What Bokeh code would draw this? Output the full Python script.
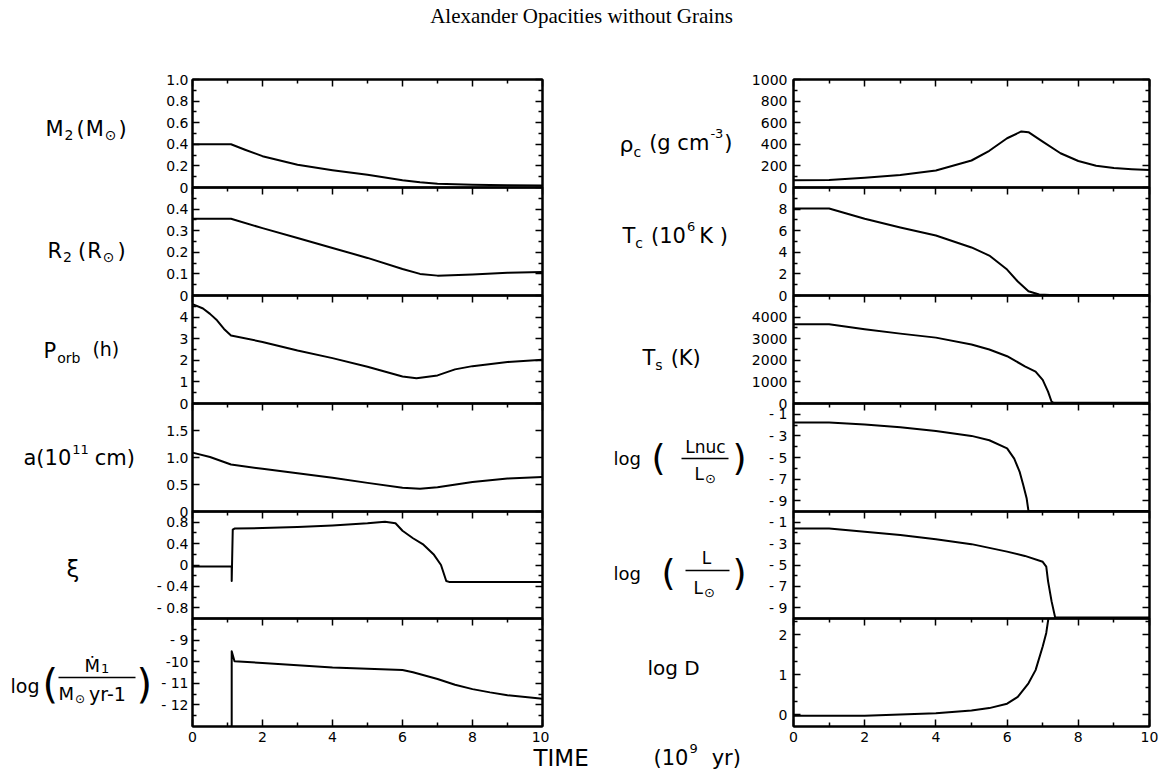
import numpy as np
from bokeh.plotting import figure
from bokeh.models import Range1d, LinearAxis, FixedTicker, Label, Arrow
from bokeh.layouts import column, row
from bokeh.embed import file_html
from bokeh.resources import INLINE

# ---------------- data (time in 10^9 yr) ----------------
m2_time = [0, 1.1, 1.5, 2, 3, 4, 5, 6, 6.5, 7, 8, 9, 10]
m2_mass = [0.40, 0.40, 0.35, 0.29, 0.21, 0.16, 0.117, 0.068, 0.048, 0.035, 0.025, 0.021, 0.018]

r2_time = [0, 1.1, 2, 3, 4, 5, 6, 6.5, 7, 8, 9, 10]
r2_radius = [0.355, 0.355, 0.312, 0.266, 0.22, 0.174, 0.123, 0.10, 0.092, 0.097, 0.105, 0.109]

porb_time = [0, 0.3, 0.5, 0.7, 0.9, 1.1, 2, 3, 4, 5, 6, 6.4, 7, 7.5, 8, 9, 10]
porb_hours = [4.6, 4.4, 4.15, 3.85, 3.45, 3.15, 2.85, 2.45, 2.1, 1.7, 1.25, 1.17, 1.3, 1.58, 1.73, 1.92, 2.02]

sep_time = [0, 0.5, 1.1, 2, 3, 4, 5, 6, 6.5, 7, 8, 9, 10]
sep_a = [1.09, 1.01, 0.87, 0.79, 0.71, 0.625, 0.53, 0.44, 0.42, 0.45, 0.545, 0.61, 0.64]

xi_time = [0, 1.12, 1.12, 1.15, 1.2, 2, 3, 4, 5, 5.5, 5.8, 6, 6.3, 6.6, 6.9, 7.1, 7.25, 7.35, 10]
xi_val = [-0.03, -0.03, -0.3, 0.66, 0.68, 0.69, 0.71, 0.74, 0.78, 0.81, 0.78, 0.64, 0.5, 0.38, 0.19, 0.0, -0.3, -0.32, -0.32]

mdot_time = [1.12, 1.12, 1.2, 2, 3, 4, 5, 6, 6.3, 7, 7.5, 8, 8.5, 9, 10]
mdot_log = [-13, -9.52, -9.98, -10.06, -10.17, -10.27, -10.33, -10.38, -10.49, -10.8, -11.07, -11.27, -11.42, -11.55, -11.72]

rho_time = [0, 1, 2, 3, 4, 5, 5.5, 6, 6.4, 6.6, 7, 7.5, 8, 8.5, 9, 9.5, 10]
rho_c = [68, 70, 90, 115, 158, 250, 340, 456, 519, 512, 425, 317, 245, 202, 180, 170, 163]

tc_time = [0, 1, 2, 3, 4, 5, 5.5, 6, 6.3, 6.6, 6.9, 7.2, 10]
tc_val = [8.05, 8.05, 7.1, 6.3, 5.55, 4.45, 3.7, 2.4, 1.3, 0.4, 0.1, 0.05, 0.05]

ts_time = [0, 1, 2, 3, 4, 5, 5.5, 6, 6.5, 6.8, 7.0, 7.15, 7.25, 7.3, 10]
ts_val = [3670, 3670, 3440, 3235, 3050, 2735, 2500, 2190, 1720, 1480, 1090, 550, 80, 40, 40]

lnuc_time = [0, 1, 2, 3, 4, 5, 5.5, 6, 6.2, 6.35, 6.45, 6.55, 6.6, 10]
lnuc_log = [-1.75, -1.75, -1.95, -2.2, -2.55, -3.0, -3.4, -4.15, -5.1, -6.3, -7.5, -8.8, -9.95, -9.95]

lum_time = [0, 1, 2, 3, 4, 5, 6, 6.5, 7, 7.1, 7.15, 7.25, 7.35, 10]
lum_log = [-1.6, -1.6, -1.9, -2.2, -2.6, -3.05, -3.75, -4.15, -4.7, -5.15, -6.5, -8.4, -9.9, -9.9]

logd_time = [0, 2, 3, 4, 5, 5.5, 6, 6.3, 6.6, 6.8, 7.0, 7.1, 7.16]
logd_val = [-0.03, -0.03, 0.0, 0.03, 0.1, 0.16, 0.27, 0.44, 0.78, 1.11, 1.7, 2.04, 2.4]

# ---------------- ticks ----------------
x_ticks = [0, 2, 4, 6, 8, 10]
x_minor = [1, 3, 5, 7, 9]
x_labels = ["0", "2", "4", "6", "8", "10"]

m2_ticks = [0, 0.2, 0.4, 0.6, 0.8, 1.0]
m2_labels = ["0", "0.2", "0.4", "0.6", "0.8", "1.0"]
m2_minor = [0.1, 0.3, 0.5, 0.7, 0.9]
r2_ticks = [0, 0.1, 0.2, 0.3, 0.4]
r2_labels = ["0", "0.1", "0.2", "0.3", "0.4"]
r2_minor = [0.05, 0.15, 0.25, 0.35, 0.45]
porb_ticks = [0, 1, 2, 3, 4]
porb_labels = ["0", "1", "2", "3", "4"]
porb_minor = [0.5, 1.5, 2.5, 3.5, 4.5]
sep_ticks = [0, 0.5, 1.0, 1.5]
sep_labels = ["0", "0.5", "1.0", "1.5"]
sep_minor = []
xi_ticks = [-0.8, -0.4, 0, 0.4, 0.8]
xi_labels = ["- 0.8", "- 0.4", "0", "0.4", "0.8"]
xi_minor = [-0.6, -0.2, 0.2, 0.6]
mdot_ticks = [-12, -11, -10, -9]
mdot_labels = ["- 12", "- 11", "-10", "- 9"]
mdot_minor = [-12.5, -11.5, -10.5, -9.5, -8.5]

rho_ticks = [0, 200, 400, 600, 800, 1000]
rho_labels = ["0", "200", "400", "600", "800", "1000"]
rho_minor = [100, 300, 500, 700, 900]
tc_ticks = [0, 2, 4, 6, 8]
tc_labels = ["0", "2", "4", "6", "8"]
tc_minor = [1, 3, 5, 7, 9]
ts_ticks = [0, 1000, 2000, 3000, 4000]
ts_labels = ["0", "1000", "2000", "3000", "4000"]
ts_minor = [500, 1500, 2500, 3500, 4500]
lg_ticks = [-9, -7, -5, -3, -1]
lg_labels = ["- 9", "- 7", "- 5", "- 3", "- 1"]
lg_minor = [-8, -6, -4, -2]
logd_ticks = [0, 1, 2]
logd_labels = ["0", "1", "2"]
logd_minor = [0.333, 0.667, 1.333, 1.667, 2.333]

# ---------------- layout geometry ----------------
FONT = "DejaVu Sans"
LABEL_W = [153, 198]         # width of the label strip left of each column
FW = [350, 356]              # frame widths (left, right column)
ML = [38, 44]                # left borders of the panels (tick labels)
MR = [8, 13]                 # right borders
STRIP_X0 = [0, 549]          # page x where each label strip starts
TOPS = [79, 187, 295, 403, 511, 618]
HEIGHTS = [108, 108, 108, 108, 107, 108]
TB, BB, BB_LAST = 12, 12, 20
TOP_BAND = TOPS[0] - TB
COL_TOP = TOPS[0] - TB
COL_BOTTOM = TOPS[-1] + HEIGHTS[-1] + BB_LAST
BAND_OVERLAP = 14
BOTTOM_BAND = 775 - COL_BOTTOM + BAND_OVERLAP

left_panels = [
    dict(t=m2_time, v=m2_mass, yr=(0, 1.0), tk=m2_ticks, lb=m2_labels, mn=m2_minor),
    dict(t=r2_time, v=r2_radius, yr=(0, 0.5), tk=r2_ticks, lb=r2_labels, mn=r2_minor),
    dict(t=porb_time, v=porb_hours, yr=(0, 5), tk=porb_ticks, lb=porb_labels, mn=porb_minor),
    dict(t=sep_time, v=sep_a, yr=(0, 2.0), tk=sep_ticks, lb=sep_labels, mn=sep_minor),
    dict(t=xi_time, v=xi_val, yr=(-1.0, 1.0), tk=xi_ticks, lb=xi_labels, mn=xi_minor),
    dict(t=mdot_time, v=mdot_log, yr=(-13, -8), tk=mdot_ticks, lb=mdot_labels, mn=mdot_minor),
]
right_panels = [
    dict(t=rho_time, v=rho_c, yr=(0, 1000), tk=rho_ticks, lb=rho_labels, mn=rho_minor),
    dict(t=tc_time, v=tc_val, yr=(0, 10), tk=tc_ticks, lb=tc_labels, mn=tc_minor),
    dict(t=ts_time, v=ts_val, yr=(0, 5000), tk=ts_ticks, lb=ts_labels, mn=ts_minor),
    dict(t=lnuc_time, v=lnuc_log, yr=(-10, 0), tk=lg_ticks, lb=lg_labels, mn=lg_minor),
    dict(t=lum_time, v=lum_log, yr=(-10, 0), tk=lg_ticks, lb=lg_labels, mn=lg_minor),
    dict(t=logd_time, v=logd_val, yr=(-0.3, 2.4), tk=logd_ticks, lb=logd_labels, mn=logd_minor),
]

# approximate advance widths of DejaVu Sans (em)
ADV = {"M": .863, "R": .695, "P": .603, "T": .611, "K": .656, "L": .557, "D": .770, "I": .295, "E": .632,
       "a": .613, "b": .635, "c": .550, "g": .635, "h": .634, "l": .278, "m": .974, "n": .634, "o": .612,
       "r": .411, "s": .521, "u": .634, "y": .592, "(": .390, ")": .390, " ": .318, "-": .361,
       "\u2299": .838, "\u03be": .5, "\u03c1": .635, "\u1e40": .863}


def text_width(s, size):
    return sum(ADV.get(ch, .636) for ch in s) * size


# quantity labels as flows: (page x start, page y centre, [(text, size, dy, gap before)])
left_flows = [
    (45, 128, [("M", 21, 0, 0), ("2", 14, 6, 1), ("(", 21, 0, 3), ("M", 21, 0, 1), ("\u2299", 14, 6, 1), (")", 21, 0, 2)]),
    (47, 250, [("R", 21, 0, 0), ("2", 14, 6, 1), ("(", 21, 0, 6), ("R", 21, 0, 1), ("\u2299", 14, 6, 1), (")", 21, 0, 3)]),
    (43, 350, [("P", 21, 0, 0), ("orb", 14, 7, 1), ("(h)", 19, -2, 12)]),
    (23, 457, [("a(10", 21, 0, 0), ("11", 13, -8, 1), ("cm)", 21, 0, 6)]),
    (66, 568, [("\u03be", 23, 0, 0)]),
    (10, 685, [("log", 19, 0, 0)]),
    (42, 683, [("(", 40, 0, 0)]),
    (84, 665, [("\u1e40", 18, 0, 0), ("1", 13, 3, 1)]),
    (58, 693, [("M", 18, 0, 0), ("\u2299", 12, 5, 1), ("yr-1", 19, 0, 4)]),
    (136, 683, [(")", 40, 0, 0)]),
]
left_centered = []
left_bars = [(58, 135, 677)]

right_flows = [
    (618, 142, [("\u03c1", 22, 2, 0), ("c", 14, 9, 0), ("(g cm", 21, 0, 8), ("-3", 13, -9, 1), (")", 21, 0, 1)]),
    (621, 235, [("T", 21, 0, 0), ("c", 14, 7, 0), ("(10", 21, 0, 8), ("6", 13, -9, 1), ("K )", 21, 0, 4)]),
    (641, 357, [("T", 21, 0, 0), ("s", 14, 7, 0), ("(K)", 21, 0, 8)]),
    (612, 458, [("log", 18, 0, 0)]),
    (650, 457, [("(", 36, 0, 0)]),
    (693, 473, [("L", 17, 0, 0), ("\u2299", 13, 5, 1)]),
    (731, 457, [(")", 36, 0, 0)]),
    (612, 573, [("log", 18, 0, 0)]),
    (660, 572, [("(", 36, 0, 0)]),
    (692, 587, [("L", 17, 0, 0), ("\u2299", 13, 5, 1)]),
    (731, 572, [(")", 36, 0, 0)]),
    (646, 667, [("log  D", 20, 0, 0)]),
]
right_centered = [("Lnuc", 704, 446, 17), ("L", 705, 557, 17)]
right_bars = [(680, 727, 458), (684, 728, 570)]


def tick_axis(ticks, minor, labels=None, size="14px", standoff=4):
    ax = LinearAxis(ticker=FixedTicker(ticks=ticks, minor_ticks=minor),
                    major_tick_in=7, major_tick_out=0, minor_tick_in=4, minor_tick_out=0,
                    axis_line_width=2, axis_line_color="black",
                    major_tick_line_width=1.5, minor_tick_line_width=1.5,
                    major_label_text_font=FONT, major_label_text_color="black")
    if labels is None:
        ax.major_label_text_font_size = "0px"
        ax.major_label_standoff = 0
        ax.major_label_overrides = {t: "" for t in ticks}
    else:
        ax.major_label_text_font_size = size
        ax.major_label_standoff = standoff
        ax.major_label_overrides = {t: l for t, l in zip(ticks, labels)}
    return ax


def make_panel(col, k, cfg):
    last = k == 5
    p = figure(frame_width=FW[col], frame_height=HEIGHTS[k],
               x_range=Range1d(0, 10), y_range=Range1d(*cfg["yr"]),
               x_axis_location=None, y_axis_location=None,
               toolbar_location=None, output_backend="svg",
               min_border_left=ML[col], min_border_right=MR[col],
               min_border_top=TB, min_border_bottom=BB_LAST if last else BB,
               background_fill_color=None, border_fill_color=None,
               outline_line_color="black", outline_line_width=2)
    p.grid.visible = False
    p.add_layout(tick_axis(cfg["tk"], cfg["mn"], cfg["lb"], "14px", 4 if col == 0 else 6), "left")
    p.add_layout(tick_axis(cfg["tk"], cfg["mn"]), "right")
    p.add_layout(tick_axis(x_ticks, x_minor), "above")
    if last:
        p.add_layout(tick_axis(x_ticks, x_minor, x_labels, "14px", 5), "below")
    p.line(cfg["t"], cfg["v"], line_color="black", line_width=2, line_join="round")
    if k > 0:
        p.margin = (-(TB + BB), 0, 0, 0)
    return p


def blank(width, height, xr, yr):
    b = figure(width=width, height=height, x_range=Range1d(*xr), y_range=Range1d(*yr),
               x_axis_location=None, y_axis_location=None, toolbar_location=None,
               output_backend="svg", min_border=0, outline_line_color=None,
               background_fill_color=None, border_fill_color=None)
    b.grid.visible = False
    return b


def add_text(fig, text, x, y, size, align="left", font=FONT):
    fig.add_layout(Label(x=x, y=y, text=text, text_font=font, text_font_size=f"{size}px",
                         text_baseline="middle", text_align=align, text_color="black"))


def add_flows(fig, flows):
    for x, y, pieces in flows:
        for text, size, dy, gap in pieces:
            x += gap
            add_text(fig, text, x, y + dy, size)
            x += text_width(text, size)


def label_strip(col, flows, centered, bars):
    x0 = STRIP_X0[col]
    s = blank(LABEL_W[col], COL_BOTTOM - COL_TOP, (x0, x0 + LABEL_W[col]), (COL_BOTTOM, COL_TOP))
    add_flows(s, flows)
    for text, x, y, size in centered:
        add_text(s, text, x, y, size, "center")
    for (px0, px1, py) in bars:
        s.add_layout(Arrow(end=None, x_start=px0, y_start=py, x_end=px1, y_end=py,
                           line_width=1.5, line_color="black"))
    return s


left_figs = [make_panel(0, k, c) for k, c in enumerate(left_panels)]
right_figs = [make_panel(1, k, c) for k, c in enumerate(right_panels)]
left_strip = label_strip(0, left_flows, left_centered, left_bars)
right_strip = label_strip(1, right_flows, right_centered, right_bars)

top = blank(1160, TOP_BAND, (0, 1160), (TOP_BAND, 0))
add_text(top, "Alexander Opacities without Grains", 581, 15, 21, "center", "Liberation Serif")

y_band0 = COL_BOTTOM - BAND_OVERLAP
bot = blank(1160, BOTTOM_BAND, (0, 1160), (775, y_band0))
bot.margin = (-BAND_OVERLAP, 0, 0, 0)
add_flows(bot, [(533, 757, [("TIME", 23, 0, 0)]),
                (653, 757, [("(10", 21, 0, 0), ("9", 13, -9, 1), ("yr)", 21, 0, 14)])])

layout = column(top,
                row(left_strip, column(*left_figs), right_strip, column(*right_figs)),
                bot)

open("out.html", "w").write(file_html(layout, INLINE))
